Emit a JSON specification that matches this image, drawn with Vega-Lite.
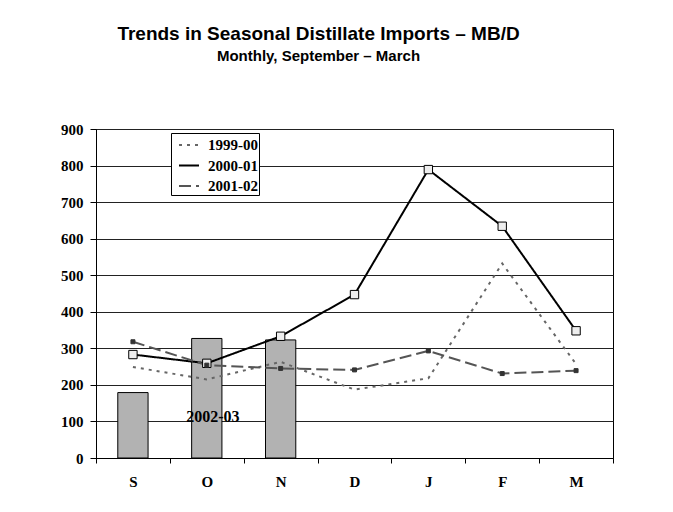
{
  "$schema": "https://vega.github.io/schema/vega-lite/v6.json",
  "width": 517,
  "height": 329,
  "autosize": {"type": "none"},
  "padding": {"left": 96, "top": 129, "right": 60, "bottom": 54},
  "background": "white",
  "title": {
    "text": "Trends in Seasonal Distillate Imports – MB/D",
    "subtitle": "Monthly, September – March",
    "font": "Liberation Sans",
    "fontSize": 19,
    "fontWeight": "bold",
    "color": "black",
    "subtitleFont": "Liberation Sans",
    "subtitleFontSize": 15,
    "subtitleFontWeight": "bold",
    "subtitleColor": "black",
    "anchor": "middle",
    "dx": -36,
    "offset": 58,
    "subtitlePadding": 5
  },
  "config": {
    "view": {"stroke": "black", "strokeWidth": 1},
    "axis": {
      "labelFont": "Liberation Serif",
      "labelFontWeight": "bold",
      "labelFontSize": 15,
      "labelColor": "black",
      "domainColor": "black",
      "tickColor": "black",
      "tickSize": 5,
      "title": null
    },
    "legend": {
      "orient": "none",
      "legendX": 75,
      "legendY": 4,
      "strokeColor": "black",
      "fillColor": "white",
      "padding": 1,
      "labelFont": "Liberation Serif",
      "labelFontWeight": "bold",
      "labelFontSize": 15,
      "labelColor": "black",
      "labelOffset": 8,
      "labelExpr": "datum.label + '  '",
      "symbolType": "stroke",
      "symbolStrokeWidth": 2,
      "symbolSize": 400,
      "symbolOffset": 6,
      "rowPadding": 1.5,
      "title": null
    }
  },
  "datasets": {
    "lines": [
      {"month": "S", "series": "1999-00", "value": 249},
      {"month": "O", "series": "1999-00", "value": 215},
      {"month": "N", "series": "1999-00", "value": 263},
      {"month": "D", "series": "1999-00", "value": 187},
      {"month": "J", "series": "1999-00", "value": 218},
      {"month": "F", "series": "1999-00", "value": 532},
      {"month": "M", "series": "1999-00", "value": 257},
      {"month": "S", "series": "2000-01", "value": 283},
      {"month": "O", "series": "2000-01", "value": 259},
      {"month": "N", "series": "2000-01", "value": 333},
      {"month": "D", "series": "2000-01", "value": 447},
      {"month": "J", "series": "2000-01", "value": 789},
      {"month": "F", "series": "2000-01", "value": 634},
      {"month": "M", "series": "2000-01", "value": 348},
      {"month": "S", "series": "2001-02", "value": 318},
      {"month": "O", "series": "2001-02", "value": 254},
      {"month": "N", "series": "2001-02", "value": 245},
      {"month": "D", "series": "2001-02", "value": 241},
      {"month": "J", "series": "2001-02", "value": 293},
      {"month": "F", "series": "2001-02", "value": 231},
      {"month": "M", "series": "2001-02", "value": 239}
    ],
    "bars": [
      {"month": "S", "series": "2002-03", "value": 179},
      {"month": "O", "series": "2002-03", "value": 327},
      {"month": "N", "series": "2002-03", "value": 323}
    ],
    "labels": [
      {"month": "O", "value": 112, "label": "2002-03"}
    ]
  },
  "encoding": {
    "x": {
      "field": "month",
      "type": "nominal",
      "scale": {"domain": ["S", "O", "N", "D", "J", "F", "M"], "paddingInner": 0, "paddingOuter": 0},
      "axis": {"labelAngle": 0, "tickBand": "extent", "labelPadding": 11, "grid": false}
    },
    "y": {
      "field": "value",
      "type": "quantitative",
      "scale": {"domain": [0, 900], "nice": false},
      "axis": {"values": [0, 100, 200, 300, 400, 500, 600, 700, 800, 900], "tickSize": 6, "labelPadding": 7, "grid": true, "gridColor": "#222222", "gridOpacity": 1, "gridWidth": 1}
    }
  },
  "layer": [
    {
      "data": {"name": "bars"},
      "mark": {"type": "bar", "fill": "#b2b2b2", "stroke": "black", "strokeWidth": 1, "width": {"band": 0.41}}
    },
    {
      "data": {"name": "lines"},
      "mark": {"type": "line", "strokeWidth": 2},
      "encoding": {
        "color": {
          "field": "series",
          "type": "nominal",
          "scale": {"domain": ["1999-00", "2000-01", "2001-02"], "range": ["#666666", "#000000", "#555555"]}
        },
        "strokeDash": {
          "field": "series",
          "type": "nominal",
          "scale": {"domain": ["1999-00", "2000-01", "2001-02"], "range": [[3, 5], [1, 0], [12, 5]]}
        }
      }
    },
    {
      "data": {"name": "lines"},
      "transform": [{"filter": "datum.series === '2000-01'"}],
      "mark": {"type": "point", "shape": "square", "size": 70, "filled": true, "fill": "#eeeeee", "stroke": "black", "strokeWidth": 1, "opacity": 1}
    },
    {
      "data": {"name": "lines"},
      "transform": [{"filter": "datum.series === '2001-02'"}],
      "mark": {"type": "point", "shape": "square", "size": 16, "filled": true, "fill": "#333333", "stroke": "#333333", "strokeWidth": 1, "opacity": 1}
    },
    {
      "data": {"name": "labels"},
      "mark": {"type": "text", "font": "Liberation Serif", "fontWeight": "bold", "fontSize": 16, "color": "black", "dx": 6},
      "encoding": {"text": {"field": "label", "type": "nominal"}}
    }
  ]
}
